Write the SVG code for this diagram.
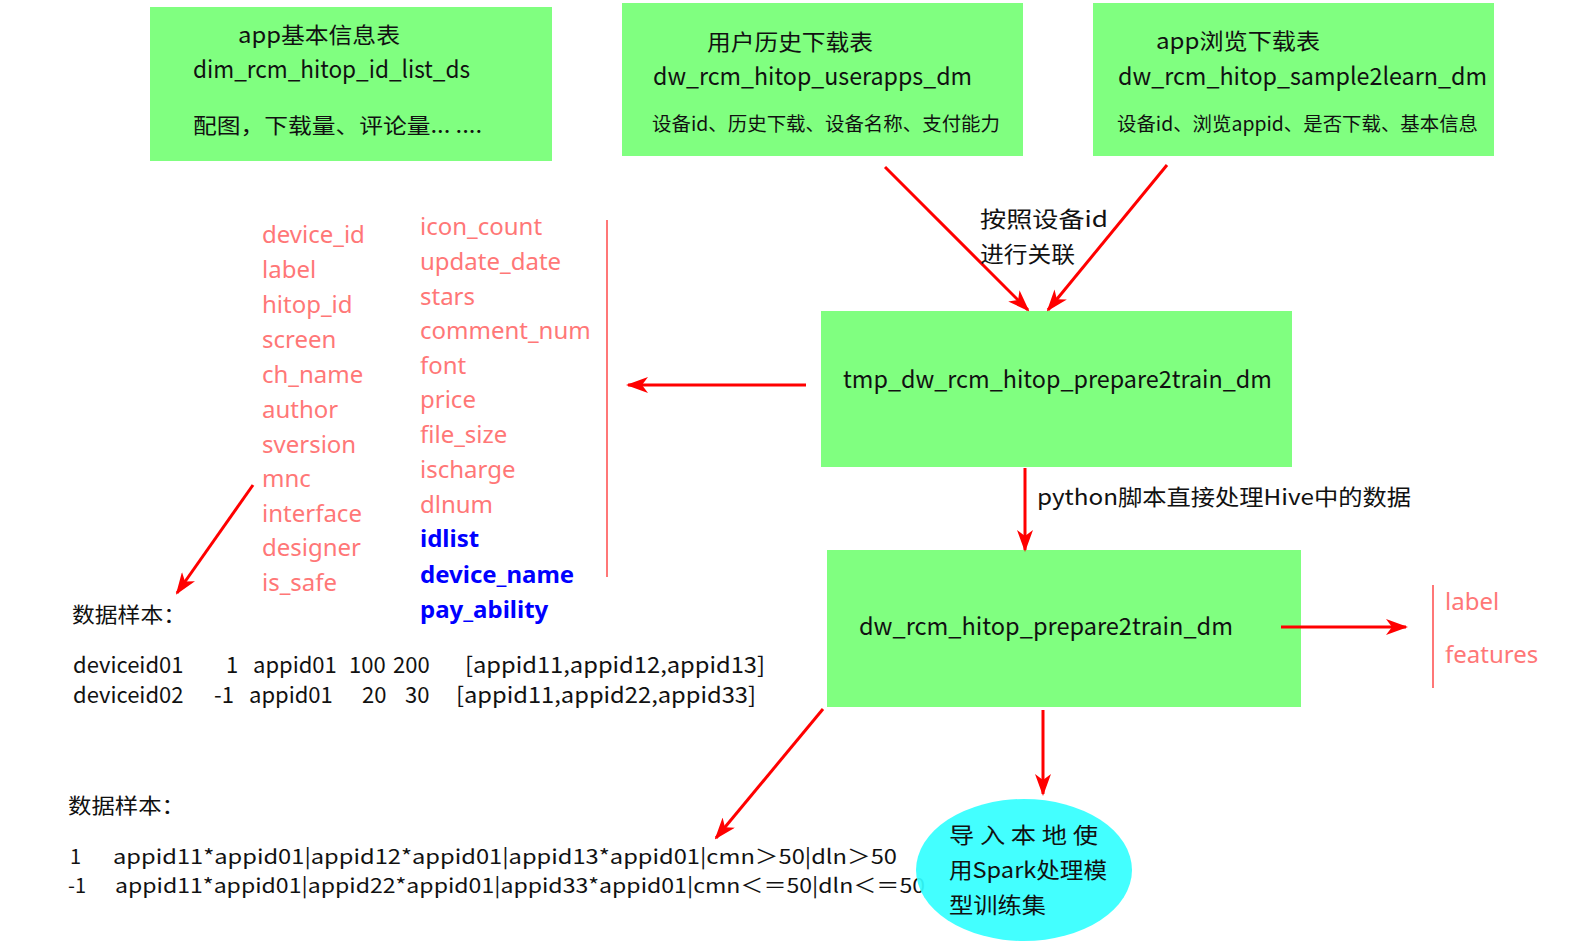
<svg xmlns="http://www.w3.org/2000/svg" width="1584" height="948" viewBox="0 0 1584 948">
<style>
.box{fill:#80FF80}
.t{font-family:"Noto Sans CJK SC","Noto Sans",sans-serif;fill:#111}
.f{font-family:"Noto Sans","Noto Sans CJK SC",sans-serif;font-size:24px;fill:#F77}
.fb{font-family:"Noto Sans","Noto Sans CJK SC",sans-serif;font-size:24px;fill:#0000FF;font-weight:bold}
.c{stroke:#FF0000;stroke-width:3;fill:none}
.rl{stroke:#F77;stroke-width:2;fill:none}
</style>
<defs>
<marker id="ah" viewBox="0 0 22 16" refX="20" refY="8" markerWidth="22" markerHeight="16" markerUnits="userSpaceOnUse" orient="auto">
<path d="M0,0 L22,8 L0,16 L6,8 z" fill="#FF0000"/>
</marker>
</defs>
<rect width="1584" height="948" fill="#FFFFFF"/>

<g id="node-app-info">
<rect class="box" x="150" y="7" width="402" height="154"/>
<text class="t" x="238" y="43" font-size="22" textLength="162" lengthAdjust="spacingAndGlyphs">app基本信息表</text>
<text class="t" x="193" y="78" font-size="24" textLength="277" lengthAdjust="spacingAndGlyphs">dim_rcm_hitop_id_list_ds</text>
<text class="t" x="193" y="133" font-size="21" textLength="289" lengthAdjust="spacingAndGlyphs">配图，下载量、评论量... ....</text>
</g>

<g id="node-userapps">
<rect class="box" x="622" y="3" width="401" height="153"/>
<text class="t" x="707" y="50" font-size="22" textLength="166" lengthAdjust="spacingAndGlyphs">用户历史下载表</text>
<text class="t" x="653" y="85" font-size="24" textLength="319" lengthAdjust="spacingAndGlyphs">dw_rcm_hitop_userapps_dm</text>
<text class="t" x="652" y="131" font-size="19" textLength="348" lengthAdjust="spacingAndGlyphs">设备id、历史下载、设备名称、支付能力</text>
</g>

<g id="node-sample2learn">
<rect class="box" x="1093" y="3" width="401" height="153"/>
<text class="t" x="1156" y="49" font-size="22" textLength="164" lengthAdjust="spacingAndGlyphs">app浏览下载表</text>
<text class="t" x="1118" y="85" font-size="24" textLength="369" lengthAdjust="spacingAndGlyphs">dw_rcm_hitop_sample2learn_dm</text>
<text class="t" x="1117" y="131" font-size="19" textLength="361" lengthAdjust="spacingAndGlyphs">设备id、浏览appid、是否下载、基本信息</text>
</g>

<g id="node-tmp-prepare">
<rect class="box" x="821" y="311" width="471" height="156"/>
<text class="t" x="843" y="388" font-size="24" textLength="429" lengthAdjust="spacingAndGlyphs">tmp_dw_rcm_hitop_prepare2train_dm</text>
</g>

<g id="node-prepare">
<rect class="box" x="827" y="550" width="474" height="157"/>
<text class="t" x="859" y="635" font-size="24" textLength="374" lengthAdjust="spacingAndGlyphs">dw_rcm_hitop_prepare2train_dm</text>
</g>

<g id="node-fields">
<text class="f" x="262" y="243">device_id</text>
<text class="f" x="262" y="278">label</text>
<text class="f" x="262" y="313">hitop_id</text>
<text class="f" x="262" y="348">screen</text>
<text class="f" x="262" y="383">ch_name</text>
<text class="f" x="262" y="418">author</text>
<text class="f" x="262" y="453">sversion</text>
<text class="f" x="262" y="487">mnc</text>
<text class="f" x="262" y="522">interface</text>
<text class="f" x="262" y="556">designer</text>
<text class="f" x="262" y="591">is_safe</text>
<text class="f" x="420" y="235">icon_count</text>
<text class="f" x="420" y="270">update_date</text>
<text class="f" x="420" y="305">stars</text>
<text class="f" x="420" y="339">comment_num</text>
<text class="f" x="420" y="374">font</text>
<text class="f" x="420" y="408">price</text>
<text class="f" x="420" y="443">file_size</text>
<text class="f" x="420" y="478">ischarge</text>
<text class="f" x="420" y="513">dlnum</text>
<text class="fb" x="420" y="547">idlist</text>
<text class="fb" x="420" y="583">device_name</text>
<text class="fb" x="420" y="618">pay_ability</text>
<line class="rl" x1="607" y1="220" x2="607" y2="577"/>
</g>

<g id="node-sample1">
<text class="t" x="72" y="622" font-size="21" textLength="114" lengthAdjust="spacingAndGlyphs">数据样本：</text>
<g class="t" font-size="22">
<text x="73" y="673">deviceid01</text>
<text x="226" y="673">1</text>
<text x="253" y="673">appid01</text>
<text x="349" y="673">100</text>
<text x="393" y="673">200</text>
<text x="465" y="673" textLength="300" lengthAdjust="spacingAndGlyphs">[appid11,appid12,appid13]</text>
<text x="73" y="703">deviceid02</text>
<text x="214" y="703">-1</text>
<text x="249" y="703">appid01</text>
<text x="362" y="703">20</text>
<text x="405" y="703">30</text>
<text x="456" y="703" textLength="300" lengthAdjust="spacingAndGlyphs">[appid11,appid22,appid33]</text>
</g>
</g>

<g id="node-sample2">
<text class="t" x="68" y="813" font-size="21" textLength="117" lengthAdjust="spacingAndGlyphs">数据样本：</text>
<text class="t" x="70" y="864" font-size="20">1</text>
<text class="t" x="113" y="864" font-size="20" textLength="784" lengthAdjust="spacingAndGlyphs">appid11*appid01|appid12*appid01|appid13*appid01|cmn＞50|dln＞50</text>
<text class="t" x="68" y="893" font-size="20">-1</text>
<text class="t" x="115" y="893" font-size="20" textLength="810" lengthAdjust="spacingAndGlyphs">appid11*appid01|appid22*appid01|appid33*appid01|cmn＜＝50|dln＜＝50</text>
</g>

<g id="node-label-features">
<line class="rl" x1="1433" y1="585" x2="1433" y2="688"/>
<text class="f" x="1445" y="610">label</text>
<text class="f" x="1445" y="663">features</text>
</g>

<g id="node-spark">
<ellipse cx="1024" cy="870" rx="108" ry="71" fill="#33FFFF" fill-opacity="0.92"/>
<text class="t" x="949" y="843" font-size="22" textLength="149" lengthAdjust="spacingAndGlyphs">导 入 本 地 使</text>
<text class="t" x="949" y="878" font-size="22" textLength="158" lengthAdjust="spacingAndGlyphs">用Spark处理模</text>
<text class="t" x="949" y="913" font-size="22" textLength="97" lengthAdjust="spacingAndGlyphs">型训练集</text>
</g>

<g id="connectors">
<line class="c" x1="885" y1="167" x2="1028" y2="310" marker-end="url(#ah)"/>
<line class="c" x1="1167" y1="165" x2="1048" y2="310" marker-end="url(#ah)"/>
<text class="t" x="980" y="227" font-size="22" textLength="128" lengthAdjust="spacingAndGlyphs">按照设备id</text>
<text class="t" x="980" y="262" font-size="22" textLength="95" lengthAdjust="spacingAndGlyphs">进行关联</text>
<line class="c" x1="806" y1="385" x2="628" y2="385" marker-end="url(#ah)"/>
<line class="c" x1="253" y1="485" x2="177" y2="593" marker-end="url(#ah)"/>
<line class="c" x1="1025" y1="468" x2="1025" y2="550" marker-end="url(#ah)"/>
<text class="t" x="1037" y="505" font-size="22" textLength="374" lengthAdjust="spacingAndGlyphs">python脚本直接处理Hive中的数据</text>
<line class="c" x1="1281" y1="627" x2="1406" y2="627" marker-end="url(#ah)"/>
<line class="c" x1="1043" y1="710" x2="1043" y2="794" marker-end="url(#ah)"/>
<line class="c" x1="823" y1="709" x2="716" y2="838" marker-end="url(#ah)"/>
</g>
</svg>
